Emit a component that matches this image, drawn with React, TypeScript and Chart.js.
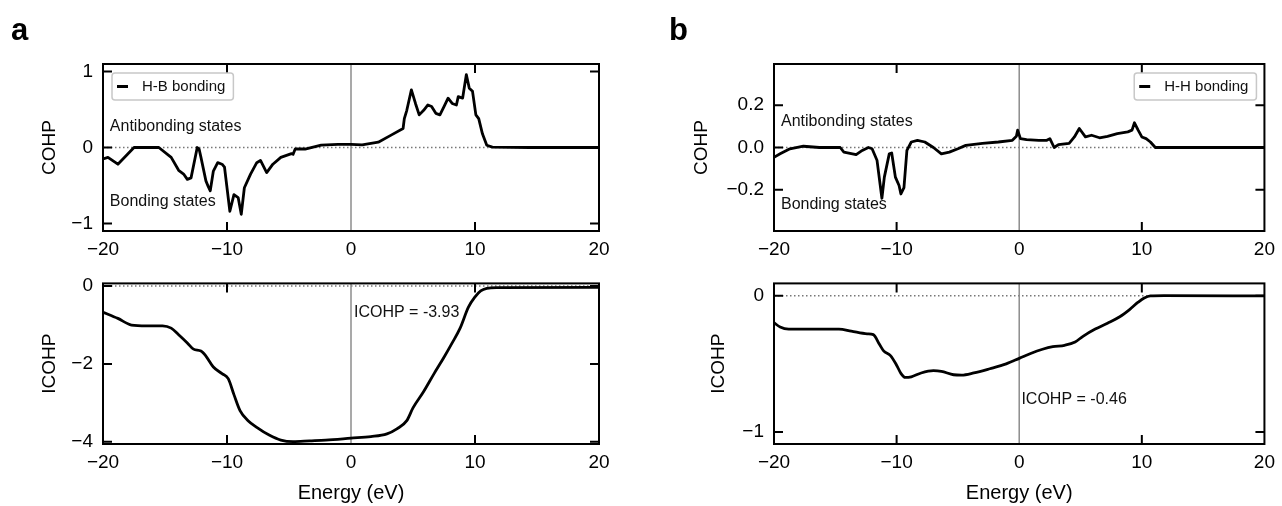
import React, { useEffect, useRef } from "react";
import { Chart, registerables } from "chart.js";

Chart.register(...registerables);

const FONT = "'Liberation Sans', Arial, Helvetica, sans-serif";

// ---------- tick values ----------
const X_TICKS = [-20, -10, 0, 10, 20];
const HB_COHP_YTICKS = [-1, 0, 1];
const HB_ICOHP_YTICKS = [-4, -2, 0];
const HH_COHP_YTICKS = [-0.2, 0, 0.2];
const HH_ICOHP_YTICKS = [-1, 0];

// ---------- panel a : H-B bonding ----------
const HB_COHP_E = [-20, -19.6, -18.8, -17.5, -16.5, -15.5, -14.5, -13.9, -13.5, -13.2, -12.9, -12.4, -12.25, -12.1, -11.7, -11.5, -11.35, -11.1, -10.75, -10.4, -10.2, -9.77, -9.44, -9.1, -8.85, -8.6, -8.1, -7.6, -7.3, -6.8, -6.3, -5.66, -4.8, -4.67, -4.5, -3.7, -2.4, -1.05, 0, 0.9, 2.2, 3.2, 4.2, 4.3, 4.5, 4.87, 5.2, 5.5, 5.86, 6.2, 6.5, 6.84, 7.17, 7.5, 7.83, 8.16, 8.5, 8.65, 9.0, 9.3, 9.54, 9.8, 10.07, 10.3, 10.6, 10.95, 11.4, 14.4, 20];
const HB_COHP_V = [-0.15, -0.13, -0.22, 0, 0, 0, -0.13, -0.3, -0.35, -0.42, -0.4, 0, -0.02, -0.13, -0.44, -0.52, -0.57, -0.31, -0.2, -0.22, -0.26, -0.84, -0.62, -0.66, -0.88, -0.53, -0.35, -0.2, -0.17, -0.33, -0.22, -0.13, -0.08, -0.09, -0.02, -0.02, 0.03, 0.04, 0.04, 0.035, 0.07, 0.16, 0.25, 0.38, 0.49, 0.76, 0.58, 0.43, 0.49, 0.56, 0.54, 0.45, 0.43, 0.54, 0.65, 0.58, 0.56, 0.67, 0.65, 0.96, 0.78, 0.74, 0.43, 0.38, 0.18, 0.03, 0.005, 0, 0];

const HB_ICOHP_E = [-20, -18.8, -17.7, -16.5, -15.2, -14.5, -13.9, -13.2, -12.7, -12.1, -11.7, -11.1, -10.4, -9.9, -9.44, -8.95, -8.3, -7.6, -6.6, -5.66, -4.67, -3.35, -2.04, 0, 1.6, 2.9, 3.7, 4.5, 5.0, 5.86, 6.7, 7.5, 8.16, 8.8, 9.47, 9.97, 10.46, 10.95, 11.8, 20];
const HB_ICOHP_V = [-0.67, -0.83, -1.0, -1.02, -1.02, -1.08, -1.25, -1.46, -1.62, -1.67, -1.8, -2.08, -2.25, -2.38, -2.79, -3.2, -3.46, -3.63, -3.83, -3.96, -4.0, -3.98, -3.96, -3.91, -3.87, -3.8, -3.67, -3.46, -3.13, -2.71, -2.25, -1.83, -1.46, -1.08, -0.54, -0.29, -0.125, -0.06, -0.04, -0.03];

// ---------- panel b : H-H bonding ----------
const HH_COHP_E = [-20, -19.5, -18.7, -17.6, -16.3, -14.6, -14.3, -13.6, -13.3, -12.8, -12.3, -12.0, -11.6, -11.2, -11.0, -10.6, -10.4, -10.1, -9.8, -9.65, -9.4, -9.16, -8.8, -8.3, -7.7, -7.0, -6.35, -5.7, -5.0, -4.36, -3.0, -1.7, -0.56, -0.23, -0.13, 0.1, 0.6, 1.6, 2.25, 2.5, 2.85, 3.2, 4.07, 4.5, 4.9, 5.4, 5.9, 6.55, 7.2, 8.0, 8.86, 9.2, 9.4, 9.7, 10.0, 10.35, 10.7, 11.1, 12.2, 20];
const HH_COHP_V = [-0.046, -0.03, -0.006, 0.006, 0, 0, -0.022, -0.03, -0.034, -0.014, 0, -0.006, -0.06, -0.24, -0.14, -0.03, -0.026, -0.14, -0.18, -0.22, -0.19, -0.014, 0.026, 0.034, 0.026, 0, -0.03, -0.022, -0.006, 0.01, 0.02, 0.026, 0.034, 0.053, 0.082, 0.042, 0.037, 0.034, 0.034, 0.042, 0.0, 0.014, 0.02, 0.05, 0.09, 0.05, 0.058, 0.046, 0.053, 0.066, 0.074, 0.082, 0.117, 0.082, 0.05, 0.042, 0.026, 0, 0, 0];

const HH_ICOHP_E = [-20, -19.5, -18.8, -17, -14.7, -13.7, -12.4, -11.9, -11.4, -11.06, -10.5, -10.0, -9.65, -9.3, -8.8, -8.0, -7.0, -6.35, -5.35, -4.7, -3.7, -2.4, -1.06, 0, 0.93, 1.9, 2.74, 3.7, 4.56, 5.2, 6.2, 7.2, 8.2, 9.0, 9.7, 10.2, 10.7, 11.8, 20];
const HH_ICOHP_V = [-0.198, -0.23, -0.245, -0.245, -0.245, -0.26, -0.28, -0.286, -0.357, -0.405, -0.44, -0.51, -0.57, -0.6, -0.595, -0.567, -0.55, -0.555, -0.58, -0.583, -0.567, -0.536, -0.5, -0.46, -0.424, -0.393, -0.374, -0.364, -0.34, -0.298, -0.245, -0.202, -0.155, -0.102, -0.048, -0.017, -0.002, 0, -0.002];

type Note = { text: string; x: number; y: number };
type Spec = {
  left: number; top: number; width: number; height: number;
  area: { l: number; t: number; r: number; b: number };
  yMin: number; yMax: number; yTicks: number[]; yDec: number;
  yTitle: string; yTitlePad: number;
  xTitle?: string;
  energies: number[]; values: number[]; smooth: boolean;
  label?: string; legendSide?: "left" | "right";
  notes: Note[];
  letter?: string; letterX?: number;
};

const fmt = (v: number, d: number) => {
  const s = Math.abs(v).toFixed(d);
  return (v < -1e-9 ? "\u2212" : "") + s;
};

function makeDecor(spec: Spec) {
  return {
    id: "decor",
    beforeDatasetsDraw(chart: any) {
      const { ctx, chartArea: a, scales } = chart;
      const x = scales.x, y = scales.y;
      ctx.save();
      const y0 = y.getPixelForValue(0);
      ctx.strokeStyle = "#777";
      ctx.lineWidth = 1.5;
      ctx.setLineDash([1.5, 2.5]);
      ctx.beginPath();
      ctx.moveTo(a.left, y0);
      ctx.lineTo(a.right, y0);
      ctx.stroke();
      ctx.setLineDash([]);
      const x0 = x.getPixelForValue(0);
      ctx.strokeStyle = "#8c8c8c";
      ctx.lineWidth = 1.5;
      ctx.beginPath();
      ctx.moveTo(x0, a.top);
      ctx.lineTo(x0, a.bottom);
      ctx.stroke();
      ctx.restore();
    },
    afterDatasetsDraw(chart: any) {
      const { ctx, chartArea: a, scales } = chart;
      const x = scales.x, y = scales.y;
      ctx.save();
      // frame
      ctx.strokeStyle = "#000";
      ctx.lineWidth = 2;
      ctx.strokeRect(a.left, a.top, a.right - a.left, a.bottom - a.top);
      // inward ticks
      const TL = 9;
      ctx.beginPath();
      for (const t of x.ticks) {
        if (t.value <= x.min || t.value >= x.max || t.value === 0) continue;
        const px = x.getPixelForValue(t.value);
        ctx.moveTo(px, a.top);
        ctx.lineTo(px, a.top + TL);
        ctx.moveTo(px, a.bottom);
        ctx.lineTo(px, a.bottom - TL);
      }
      for (const t of y.ticks) {
        const py = y.getPixelForValue(t.value);
        ctx.moveTo(a.left, py);
        ctx.lineTo(a.left + TL, py);
        ctx.moveTo(a.right, py);
        ctx.lineTo(a.right - TL, py);
      }
      ctx.stroke();

      // notes
      ctx.fillStyle = "#111";
      ctx.font = `16px ${FONT}`;
      ctx.textAlign = "left";
      ctx.textBaseline = "middle";
      for (const n of spec.notes) {
        ctx.fillText(n.text, x.getPixelForValue(n.x), y.getPixelForValue(n.y));
      }

      // legend
      const label = chart.data.datasets[0].label;
      if (label) {
        ctx.font = `15px ${FONT}`;
        const tw = ctx.measureText(label).width;
        const w = 30 + tw + 8;
        const h = 27;
        const lx = spec.legendSide === "right" ? a.right - 8 - w : a.left + 9;
        const ly = a.top + 9;
        ctx.beginPath();
        if (ctx.roundRect) ctx.roundRect(lx, ly, w, h, 3);
        else ctx.rect(lx, ly, w, h);
        ctx.fillStyle = "#fff";
        ctx.fill();
        ctx.strokeStyle = "#c8c8c8";
        ctx.lineWidth = 1.5;
        ctx.stroke();
        ctx.beginPath();
        ctx.strokeStyle = "#000";
        ctx.lineWidth = 3;
        ctx.moveTo(lx + 5, ly + h / 2);
        ctx.lineTo(lx + 16, ly + h / 2);
        ctx.stroke();
        ctx.fillStyle = "#111";
        ctx.textBaseline = "middle";
        ctx.fillText(label, lx + 30, ly + h / 2 + 0.5);
      }

      // panel letter
      if (spec.letter) {
        ctx.font = `bold 31px ${FONT}`;
        ctx.fillStyle = "#000";
        ctx.textBaseline = "alphabetic";
        ctx.textAlign = "left";
        ctx.fillText(spec.letter, spec.letterX ?? 0, 40);
      }
      ctx.restore();
    },
  };
}

function Panel({ spec }: { spec: Spec }) {
  const ref = useRef<HTMLCanvasElement | null>(null);
  useEffect(() => {
    if (!ref.current) return;
    const s = spec;
    const chart = new Chart(ref.current, {
      type: "line",
      data: {
        datasets: [
          {
            label: s.label,
            data: s.energies.map((e, i) => ({ x: e, y: s.values[i] })),
            borderColor: "#000",
            borderWidth: 2.8,
            pointRadius: 0,
            fill: false,
            tension: 0,
            cubicInterpolationMode: s.smooth ? "monotone" : "default",
            borderJoinStyle: "round",
            borderCapStyle: "round",
          } as any,
        ],
      },
      options: {
        responsive: false,
        animation: false,
        devicePixelRatio: 1,
        layout: {
          padding: {
            left: 0,
            top: s.area.t - s.top,
            right: s.left + s.width - s.area.r,
            bottom: 0,
          },
        },
        plugins: {
          legend: { display: false },
          tooltip: { enabled: false },
        },
        scales: {
          x: {
            type: "linear",
            min: -20,
            max: 20,
            grid: { display: false, drawTicks: false },
            border: { display: false },
            afterBuildTicks: (sc: any) => {
              sc.ticks = X_TICKS.map((v) => ({ value: v }));
            },
            afterFit: (sc: any) => {
              sc.height = s.top + s.height - s.area.b;
            },
            ticks: {
              padding: 7,
              color: "#000",
              font: { family: FONT, size: 19 },
              maxRotation: 0,
              autoSkip: false,
              callback: (v: any) => fmt(Number(v), 0),
            },
            title: s.xTitle
              ? {
                  display: true,
                  text: s.xTitle,
                  color: "#000",
                  font: { family: FONT, size: 20 },
                  padding: { top: 0, bottom: 1 },
                }
              : { display: false },
          },
          y: {
            type: "linear",
            min: s.yMin,
            max: s.yMax,
            grid: { display: false, drawTicks: false },
            border: { display: false },
            afterBuildTicks: (sc: any) => {
              sc.ticks = s.yTicks.map((v) => ({ value: v }));
            },
            afterFit: (sc: any) => {
              sc.width = s.area.l - s.left;
            },
            ticks: {
              padding: 10,
              color: "#000",
              font: { family: FONT, size: 19 },
              autoSkip: false,
              callback: (v: any) => fmt(Number(v), s.yDec),
            },
            title: {
              display: true,
              text: s.yTitle,
              color: "#000",
              font: { family: FONT, size: 19 },
              padding: { top: s.yTitlePad, bottom: 0 },
            },
          },
        },
      } as any,
      plugins: [makeDecor(s) as any],
    });
    return () => chart.destroy();
  }, [spec]);
  return (
    <canvas
      ref={ref}
      width={spec.width}
      height={spec.height}
      style={{ position: "absolute", left: spec.left, top: spec.top, width: spec.width, height: spec.height }}
    />
  );
}

const SPECS: Spec[] = [
  {
    left: 0, top: 0, width: 641, height: 262,
    area: { l: 103, t: 64, r: 599, b: 231 },
    yMin: -1.1, yMax: 1.1, yTicks: HB_COHP_YTICKS, yDec: 0,
    yTitle: "COHP", yTitlePad: 38.6,
    energies: HB_COHP_E, values: HB_COHP_V, smooth: false,
    label: "H-B bonding", legendSide: "left",
    notes: [
      { text: "Antibonding states", x: -19.45, y: 0.27 },
      { text: "Bonding states", x: -19.45, y: -0.71 },
    ],
    letter: "a", letterX: 11,
  },
  {
    left: 641, top: 0, width: 641, height: 262,
    area: { l: 774, t: 64, r: 1269, b: 231 },
    yMin: -0.395, yMax: 0.395, yTicks: HH_COHP_YTICKS, yDec: 1,
    yTitle: "COHP", yTitlePad: 49.6,
    energies: HH_COHP_E, values: HH_COHP_V, smooth: false,
    label: "H-H bonding", legendSide: "right",
    notes: [
      { text: "Antibonding states", x: -19.43, y: 0.124 },
      { text: "Bonding states", x: -19.43, y: -0.27 },
    ],
    letter: "b", letterX: 28,
  },
  {
    left: 0, top: 262, width: 641, height: 244,
    area: { l: 103, t: 279, r: 599, b: 444 },
    yMin: -4.06, yMax: 0.07, yTicks: HB_ICOHP_YTICKS, yDec: 0,
    yTitle: "ICOHP", yTitlePad: 38.6,
    xTitle: "Energy (eV)",
    energies: HB_ICOHP_E, values: HB_ICOHP_V, smooth: true,
    notes: [{ text: "ICOHP = -3.93", x: 0.24, y: -0.69 }],
  },
  {
    left: 641, top: 262, width: 641, height: 244,
    area: { l: 774, t: 279, r: 1269, b: 444 },
    yMin: -1.088, yMax: 0.09, yTicks: HH_ICOHP_YTICKS, yDec: 0,
    yTitle: "ICOHP", yTitlePad: 66.6,
    xTitle: "Energy (eV)",
    energies: HH_ICOHP_E, values: HH_ICOHP_V, smooth: true,
    notes: [{ text: "ICOHP = -0.46", x: 0.18, y: -0.76 }],
  },
];

export default function App() {
  return (
    <div
      style={{
        position: "absolute",
        left: 0,
        top: 0,
        width: 1282,
        height: 506,
        background: "#fff",
        overflow: "hidden",
      }}
    >
      {SPECS.map((s, i) => (
        <Panel key={i} spec={s} />
      ))}
    </div>
  );
}
